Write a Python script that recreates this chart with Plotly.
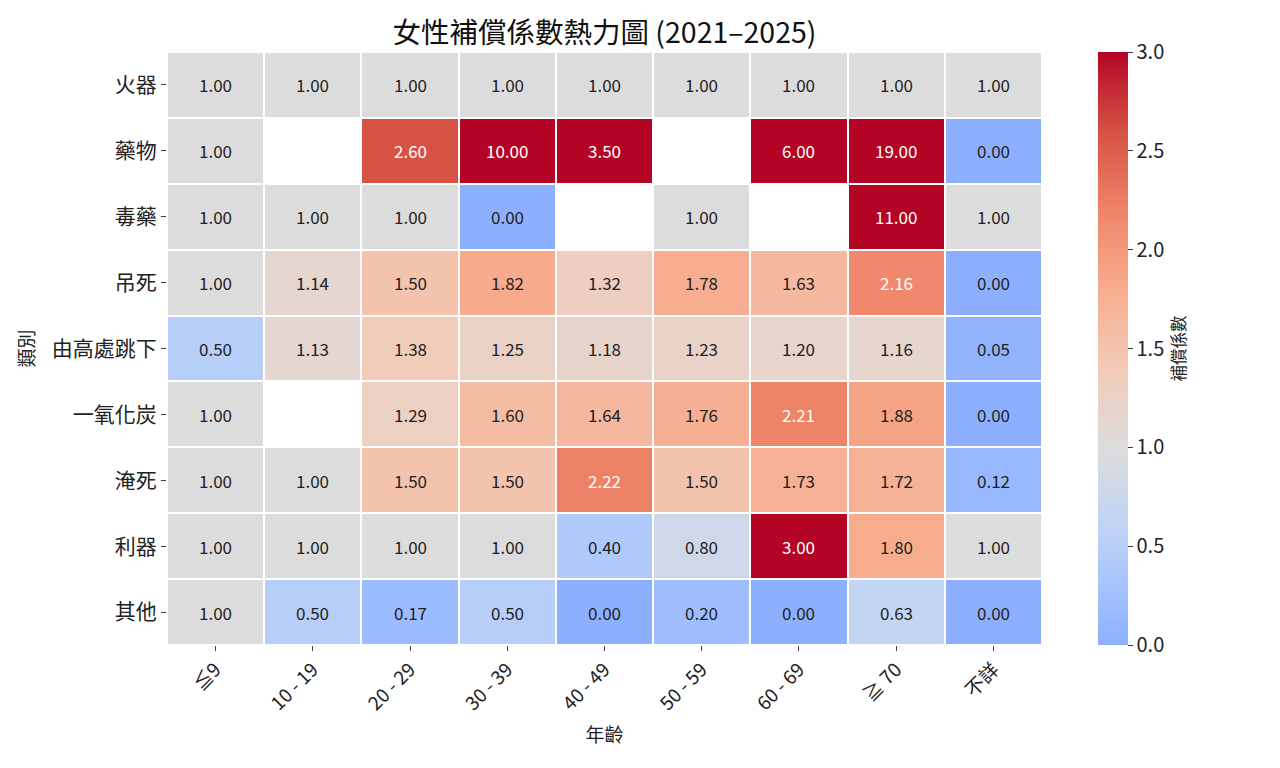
import plotly.graph_objects as go

# 資料
ages = ["≦9", "10 - 19", "20 - 29", "30 - 39", "40 - 49", "50 - 59", "60 - 69", "≧ 70", "不詳"]
methods = ["火器", "藥物", "毒藥", "吊死", "由高處跳下", "一氧化炭", "淹死", "利器", "其他"]

nan = None
firearm = [1.00, 1.00, 1.00, 1.00, 1.00, 1.00, 1.00, 1.00, 1.00]
drugs = [1.00, nan, 2.60, 10.00, 3.50, nan, 6.00, 19.00, 0.00]
poison = [1.00, 1.00, 1.00, 0.00, nan, 1.00, nan, 11.00, 1.00]
hanging = [1.00, 1.14, 1.50, 1.82, 1.32, 1.78, 1.63, 2.16, 0.00]
jumping = [0.50, 1.13, 1.38, 1.25, 1.18, 1.23, 1.20, 1.16, 0.05]
carbon_monoxide = [1.00, nan, 1.29, 1.60, 1.64, 1.76, 2.21, 1.88, 0.00]
drowning = [1.00, 1.00, 1.50, 1.50, 2.22, 1.50, 1.73, 1.72, 0.12]
sharp = [1.00, 1.00, 1.00, 1.00, 0.40, 0.80, 3.00, 1.80, 1.00]
other = [1.00, 0.50, 0.17, 0.50, 0.00, 0.20, 0.00, 0.63, 0.00]

z = [firearm, drugs, poison, hanging, jumping, carbon_monoxide, drowning, sharp, other]

# coolwarm, 以 1.0 為中心 (0 -> 0.25, 3 -> 1.0)
colorscale = [
    [0.0, "#8db0fe"],
    [0.0667, "#9ebeff"],
    [0.2, "#c0d4f5"],
    [0.3333, "#dddcdc"],
    [0.4667, "#f2cbb7"],
    [0.6, "#f7ac8e"],
    [0.7333, "#ee8468"],
    [0.8667, "#d65244"],
    [1.0, "#b40426"],
]

font_family = "Noto Sans CJK TC, Noto Sans, sans-serif"

fig = go.Figure(go.Heatmap(
    z=z,
    x=ages,
    y=methods,
    zmin=0,
    zmax=3,
    colorscale=colorscale,
    xgap=2,
    ygap=2,
    hoverongaps=False,
    colorbar=dict(
        title=dict(text="補償係數", side="right", font=dict(size=16.5, color="#222")),
        thickness=30,
        len=1,
        lenmode="fraction",
        ypad=0,
        x=1.052,
        xanchor="left",
        y=0.5,
        yanchor="middle",
        outlinewidth=0,
        tickvals=[0, 0.5, 1.0, 1.5, 2.0, 2.5, 3.0],
        ticktext=["0.0", "0.5", "1.0", "1.5", "2.0", "2.5", "3.0"],
        ticks="outside",
        ticklen=5,
        tickcolor="#444",
        tickfont=dict(size=20, color="#222"),
    ),
))

# 數值標註
for i, row in enumerate(z):
    for j, v in enumerate(row):
        if v is None:
            continue
        fig.add_annotation(
            x=ages[j], y=methods[i], text=f"{v:.2f}", showarrow=False,
            font=dict(size=17, color="white" if v > 2.05 else "#222", family=font_family),
        )

fig.update_layout(
    width=1280,
    height=768,
    plot_bgcolor="white",
    paper_bgcolor="white",
    font=dict(family=font_family, color="#222"),
    title=dict(text="女性補償係數熱力圖 (2021–2025)", x=0.466, xanchor="center",
               y=0.967, yanchor="middle", font=dict(size=28.5, color="#111")),
    margin=dict(l=159, r=246, t=44, b=131),
    xaxis=dict(
        title=dict(text="年齡", font=dict(size=19), standoff=14),
        tickangle=-45,
        tickfont=dict(size=19),
        ticks="outside",
        ticklen=5,
        tickcolor="#444",
        showgrid=False,
        zeroline=False,
    ),
    yaxis=dict(
        title=dict(text="類別", font=dict(size=19), standoff=12),
        autorange="reversed",
        tickfont=dict(size=21),
        ticks="outside",
        ticklen=5,
        tickcolor="#444",
        showgrid=False,
        zeroline=False,
    ),
)

fig.write_html("out.html")
